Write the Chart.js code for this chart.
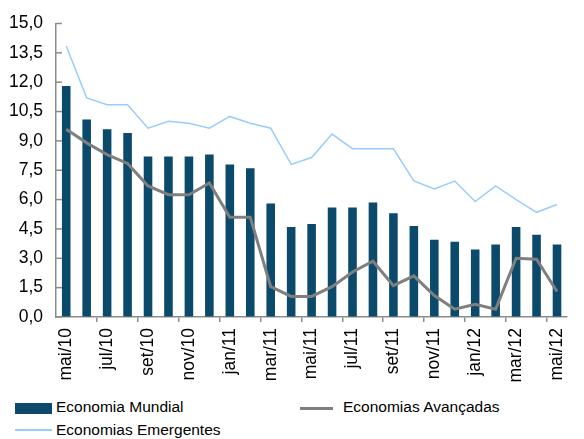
<!DOCTYPE html>
<html>
<head>
<meta charset="utf-8">
<script src="https://cdn.jsdelivr.net/npm/chart.js@4"></script>
<style>
    body { margin: 0; background: #fff; font-family: 'Liberation Sans', Arial, sans-serif; }
    #wrap { position: relative; width: 584px; height: 439px; }
    #chart { position: absolute; left: 0; top: 0; }
    .leg { position: absolute; font-size: 15.5px; color: #000; white-space: nowrap; }
    .sw { position: absolute; }
</style>
</head>
<body>
<div id="wrap">
    <canvas id="chart" width="584" height="390"></canvas>
    <div class="sw" style="left:15px; top:403px; width:37px; height:11px; background:#0b4a6b;"></div>
    <div class="leg" style="left:56px; top:398px;">Economia Mundial</div>
    <div class="sw" style="left:300px; top:407px; width:33px; height:3px; background:#7f7f7f;"></div>
    <div class="leg" style="left:343px; top:398px;">Economias Avançadas</div>
    <div class="sw" style="left:15px; top:429px; width:37px; height:1.5px; background:#99ccff;"></div>
    <div class="leg" style="left:56px; top:421px;">Economias Emergentes</div>
</div>
<script>
const months = ['mai/10', 'jun/10', 'jul/10', 'ago/10', 'set/10', 'out/10', 'nov/10', 'dez/10',
    'jan/11', 'fev/11', 'mar/11', 'abr/11', 'mai/11', 'jun/11', 'jul/11', 'ago/11', 'set/11',
    'out/11', 'nov/11', 'dez/11', 'jan/12', 'fev/12', 'mar/12', 'abr/12', 'mai/12'];

const mundial = [11.8, 10.1, 9.6, 9.4, 8.2, 8.2, 8.2, 8.3, 7.8, 7.6, 5.8, 4.6,
    4.75, 5.6, 5.6, 5.85, 5.3, 4.65, 3.95, 3.85, 3.45, 3.7, 4.6, 4.2, 3.7];

const avancadas = [9.6, 8.9, 8.3, 7.85, 6.7, 6.25, 6.25, 6.85, 5.1, 5.1, 1.55, 1.05,
    1.05, 1.55, 2.3, 2.85, 1.6, 2.1, 1.1, 0.4, 0.65, 0.4, 3.0, 2.95, 1.3];

const emergentes = [13.85, 11.2, 10.85, 10.85, 9.65, 10.0, 9.9, 9.65, 10.25, 9.9, 9.65, 7.8,
    8.15, 9.35, 8.6, 8.6, 8.6, 6.95, 6.55, 6.95, 5.9, 6.7, 6.0, 5.35, 5.75];

const yTicks = [0, 1.5, 3, 4.5, 6, 7.5, 9, 10.5, 12, 13.5, 15];

const font = { family: "'Liberation Sans', Arial, sans-serif", size: 17.5 };
const axisGrey = '#8c8c8c';

// small tick marks on the y axis pointing into the plot
const innerTicks = {
    id: 'innerTicks',
    afterDatasetsDraw(chart) {
        const y = chart.scales.y;
        const c = chart.ctx;
        c.save();
        c.strokeStyle = axisGrey;
        c.lineWidth = 1.5;
        y.ticks.forEach(t => {
            const py = y.getPixelForValue(t.value);
            c.beginPath();
            c.moveTo(y.right, py);
            c.lineTo(y.right + 6, py);
            c.stroke();
        });
        c.restore();
    }
};

new Chart(document.getElementById('chart'), {
    type: 'bar',
    data: {
        labels: months,
        datasets: [{
            label: 'Economia Mundial',
            data: mundial,
            backgroundColor: '#0b4a6b',
            borderWidth: 0,
            barPercentage: 0.42,
            categoryPercentage: 1,
            order: 3
        }, {
            type: 'line',
            label: 'Economias Avançadas',
            data: avancadas,
            borderColor: '#7f7f7f',
            borderWidth: 3,
            pointRadius: 0,
            tension: 0,
            fill: false,
            order: 1
        }, {
            type: 'line',
            label: 'Economias Emergentes',
            data: emergentes,
            borderColor: '#99ccff',
            borderWidth: 1.5,
            pointRadius: 0,
            tension: 0,
            fill: false,
            order: 2
        }]
    },
    options: {
        responsive: false,
        animation: false,
        layout: { padding: { top: 12, right: 0, left: 0, bottom: 0 } },
        plugins: {
            legend: { display: false },
            tooltip: { enabled: false }
        },
        scales: {
            x: {
                offset: true,
                grid: {
                    drawOnChartArea: false,
                    offset: true,
                    tickLength: 5,
                    lineWidth: 1.5,
                    color: c => (c.index % 2 === 0 && c.index > 0) ? axisGrey : 'rgba(0,0,0,0)'
                },
                border: { color: axisGrey, width: 1.5 },
                ticks: {
                    autoSkip: false,
                    maxRotation: 90,
                    minRotation: 90,
                    padding: 6,
                    color: '#000',
                    font: font,
                    callback: (v, i) => i % 2 === 0 ? months[i] : ''
                },
                afterFit: s => { s.height = 73; }
            },
            y: {
                min: 0,
                max: 15,
                afterBuildTicks: s => { s.ticks = yTicks.map(v => ({ value: v })); },
                grid: { drawOnChartArea: false, drawTicks: false },
                border: { color: axisGrey, width: 1.5 },
                ticks: {
                    padding: 13,
                    color: '#000',
                    font: font,
                    callback: v => v.toFixed(1).replace('.', ',')
                },
                afterFit: s => { s.width = 56; }
            }
        }
    },
    plugins: [innerTicks]
});
</script>
</body>
</html>
